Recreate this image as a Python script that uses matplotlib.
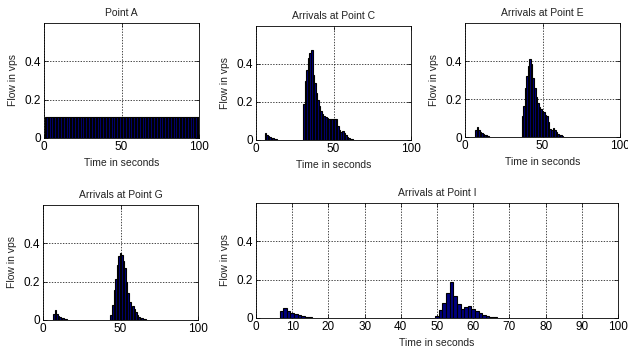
import numpy as np
import matplotlib.pyplot as plt

plt.rcParams['font.family'] = ['Liberation Sans', 'DejaVu Sans']

# flow (vehicles per second) in one-second bins
t_a = list(range(1, 101))
flow_a = [0.11] * 100

t_c = [6, 7, 8, 9, 10, 11, 12, 13,
       31, 32, 33, 34, 35, 36, 37, 38, 39, 40, 41, 42, 43, 44, 45, 46,
       47, 48, 49, 50, 51, 52, 53, 54, 55, 56, 57, 58, 59, 60, 61, 62]
flow_c = [0.035, 0.025, 0.02, 0.015, 0.01, 0.008, 0.006, 0.004,
          0.19, 0.31, 0.37, 0.43, 0.46, 0.475, 0.34, 0.30, 0.25, 0.21, 0.18, 0.155, 0.135, 0.125, 0.12, 0.115,
          0.11, 0.11, 0.11, 0.11, 0.11, 0.11, 0.075, 0.055, 0.04, 0.05, 0.035, 0.025, 0.018, 0.012, 0.007, 0.004]

t_e = [7, 8, 9, 10, 11, 12, 13, 14, 15,
       37, 38, 39, 40, 41, 42, 43, 44, 45, 46, 47, 48, 49, 50, 51, 52,
       53, 54, 55, 56, 57, 58, 59, 60, 61, 62, 63]
flow_e = [0.035, 0.052, 0.035, 0.025, 0.02, 0.015, 0.01, 0.008, 0.006,
          0.11, 0.165, 0.26, 0.32, 0.375, 0.41, 0.385, 0.31, 0.26, 0.21, 0.18, 0.16, 0.145, 0.135, 0.13, 0.115,
          0.11, 0.08, 0.04, 0.035, 0.05, 0.035, 0.025, 0.018, 0.012, 0.008, 0.005]

t_g = [7, 8, 9, 10, 11, 12, 13, 14, 15,
       44, 45, 46, 47, 48, 49, 50, 51, 52, 53, 54, 55, 56, 57, 58, 59,
       60, 61, 62, 63, 64, 65, 66]
flow_g = [0.03, 0.05, 0.03, 0.022, 0.016, 0.012, 0.008, 0.005, 0.004,
          0.025, 0.08, 0.155, 0.215, 0.285, 0.335, 0.348, 0.34, 0.31, 0.27, 0.2, 0.14, 0.095, 0.07, 0.075, 0.06,
          0.04, 0.028, 0.018, 0.012, 0.008, 0.005, 0.003]

t_i = [7, 8, 9, 10, 11, 12, 13, 14, 15,
       50, 51, 52, 53, 54, 55, 56, 57, 58, 59, 60, 61, 62, 63, 64, 65, 66]
flow_i = [0.035, 0.05, 0.035, 0.025, 0.02, 0.015, 0.01, 0.007, 0.007,
          0.01, 0.04, 0.08, 0.13, 0.19, 0.115, 0.075, 0.045, 0.06, 0.065, 0.045, 0.035, 0.025, 0.015, 0.008, 0.006, 0.006]

W, H = 628, 352
fig = plt.figure(figsize=(W / 100, H / 100), dpi=100)


def panel(box, t, flow, title, xticks, xlabel=True):
    """box = (left, right, top, bottom) in pixels"""
    l, r, top, b = box
    ax = fig.add_axes([l / W, 1 - b / H, (r - l) / W, (b - top) / H])
    ax.bar(t, flow, width=1.0, color='#00007f', edgecolor='black', linewidth=0.8, zorder=2)
    ax.set_xlim(0, 100)
    ax.set_ylim(0, 0.6)
    ax.set_xticks(xticks)
    ax.set_yticks([0, 0.2, 0.4])
    ax.set_yticklabels(['0', '0.2', '0.4'])
    ax.set_axisbelow(True)
    ax.grid(True, color='black', linestyle=(0, (2, 2)), linewidth=0.5)
    ax.tick_params(direction='in', length=3, width=0.5, labelsize=8.5, top=True, right=True, pad=2)
    for s in ax.spines.values():
        s.set_linewidth(0.6)
    ax.set_title(title, fontsize=7.5, pad=5, color='#222222')
    ax.set_ylabel('Flow in vps', fontsize=7.5, labelpad=5, color='#222222')
    if xlabel:
        ax.set_xlabel('Time in seconds', fontsize=7.5, labelpad=4, color='#222222')
    return ax


panel((44, 199, 23, 138), t_a, flow_a, 'Point A', [0, 50, 100])
panel((256, 411, 26, 140), t_c, flow_c, 'Arrivals at Point C', [0, 50, 100])
panel((465, 620, 23, 137), t_e, flow_e, 'Arrivals at Point E', [0, 50, 100])
panel((43, 198, 205, 320), t_g, flow_g, 'Arrivals at Point G', [0, 50, 100], xlabel=False)
panel((256, 618, 203, 318), t_i, flow_i, 'Arrivals at Point I', list(range(0, 101, 10)))

fig.savefig('out.png', dpi=100)
